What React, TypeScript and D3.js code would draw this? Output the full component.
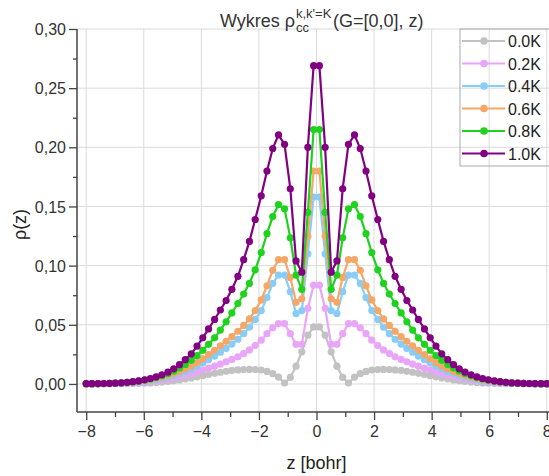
import * as d3 from "d3";
import { useEffect, useRef } from "react";

// z grid [bohr]
const zValues = [
  -8.0, -7.8, -7.59, -7.39, -7.19, -6.99, -6.78, -6.58, -6.38, -6.18,
  -5.97, -5.77, -5.57, -5.37, -5.16, -4.96, -4.76, -4.56, -4.35, -4.15,
  -3.95, -3.75, -3.54, -3.34, -3.14, -2.94, -2.73, -2.53, -2.33, -2.13,
  -1.92, -1.72, -1.52, -1.32, -1.11, -0.91, -0.71, -0.51, -0.3, -0.1,
  0.1, 0.3, 0.51, 0.71, 0.91, 1.11, 1.32, 1.52, 1.72, 1.92,
  2.13, 2.33, 2.53, 2.73, 2.94, 3.14, 3.34, 3.54, 3.75, 3.95,
  4.15, 4.35, 4.56, 4.76, 4.96, 5.16, 5.37, 5.57, 5.77, 5.97,
  6.18, 6.38, 6.58, 6.78, 6.99, 7.19, 7.39, 7.59, 7.8, 8.0,
];

const rho00 = [
  0.0, 0.0, 0.0001, 0.0001, 0.0001, 0.0002, 0.0002, 0.0003, 0.0004, 0.0005,
  0.0007, 0.0009, 0.0012, 0.0016, 0.0021, 0.0027, 0.0034, 0.0042, 0.0051, 0.006,
  0.007, 0.008, 0.009, 0.0099, 0.0107, 0.0114, 0.0119, 0.0122, 0.0123, 0.0122,
  0.0118, 0.0106, 0.0087, 0.0058, 0.0008, 0.0055, 0.015, 0.0272, 0.0412, 0.0482,
  0.0482, 0.0412, 0.0272, 0.015, 0.0055, 0.0008, 0.0058, 0.0087, 0.0106, 0.0118,
  0.0122, 0.0123, 0.0122, 0.0119, 0.0114, 0.0107, 0.0099, 0.009, 0.008, 0.007,
  0.006, 0.0051, 0.0042, 0.0034, 0.0027, 0.0021, 0.0016, 0.0012, 0.0009, 0.0007,
  0.0005, 0.0004, 0.0003, 0.0002, 0.0002, 0.0001, 0.0001, 0.0001, 0.0, 0.0,
];

const rho02 = [
  0.0001, 0.0001, 0.0002, 0.0002, 0.0003, 0.0004, 0.0005, 0.0007, 0.0009, 0.0012,
  0.0016, 0.0021, 0.0027, 0.0034, 0.0042, 0.0052, 0.0063, 0.0075, 0.0089, 0.0103,
  0.0118, 0.0133, 0.015, 0.0168, 0.0187, 0.0207, 0.023, 0.0257, 0.0288, 0.0325,
  0.037, 0.0425, 0.0475, 0.051, 0.051, 0.0425, 0.0335, 0.0335, 0.064, 0.0835,
  0.0835, 0.064, 0.0335, 0.0335, 0.0425, 0.051, 0.051, 0.0475, 0.0425, 0.037,
  0.0325, 0.0288, 0.0257, 0.023, 0.0207, 0.0187, 0.0168, 0.015, 0.0133, 0.0118,
  0.0103, 0.0089, 0.0075, 0.0063, 0.0052, 0.0042, 0.0034, 0.0027, 0.0021, 0.0016,
  0.0012, 0.0009, 0.0007, 0.0005, 0.0004, 0.0003, 0.0002, 0.0002, 0.0001, 0.0001,
];

const rho04 = [
  0.0002, 0.0002, 0.0002, 0.0003, 0.0004, 0.0005, 0.0007, 0.0009, 0.0012, 0.0016,
  0.0021, 0.0028, 0.0036, 0.0046, 0.0058, 0.0072, 0.0088, 0.0106, 0.0127, 0.015,
  0.0177, 0.0205, 0.0236, 0.0268, 0.03, 0.0337, 0.0378, 0.0425, 0.048, 0.0545,
  0.062, 0.073, 0.085, 0.092, 0.092, 0.078, 0.0595, 0.062, 0.11, 0.158,
  0.158, 0.11, 0.062, 0.0595, 0.078, 0.092, 0.092, 0.085, 0.073, 0.062,
  0.0545, 0.048, 0.0425, 0.0378, 0.0337, 0.03, 0.0268, 0.0236, 0.0205, 0.0177,
  0.015, 0.0127, 0.0106, 0.0088, 0.0072, 0.0058, 0.0046, 0.0036, 0.0028, 0.0021,
  0.0016, 0.0012, 0.0009, 0.0007, 0.0005, 0.0004, 0.0003, 0.0002, 0.0002, 0.0002,
];

const rho06 = [
  0.0002, 0.0002, 0.0003, 0.0004, 0.0005, 0.0007, 0.0009, 0.0012, 0.0016, 0.0021,
  0.0028, 0.0036, 0.0046, 0.0058, 0.0072, 0.0088, 0.0106, 0.0127, 0.0151, 0.018,
  0.0213, 0.0248, 0.0285, 0.0322, 0.036, 0.04, 0.0445, 0.0495, 0.055, 0.062,
  0.071, 0.083, 0.096, 0.105, 0.105, 0.09, 0.069, 0.072, 0.125, 0.18,
  0.18, 0.125, 0.072, 0.069, 0.09, 0.105, 0.105, 0.096, 0.083, 0.071,
  0.062, 0.055, 0.0495, 0.0445, 0.04, 0.036, 0.0322, 0.0285, 0.0248, 0.0213,
  0.018, 0.0151, 0.0127, 0.0106, 0.0088, 0.0072, 0.0058, 0.0046, 0.0036, 0.0028,
  0.0021, 0.0016, 0.0012, 0.0009, 0.0007, 0.0005, 0.0004, 0.0003, 0.0002, 0.0002,
];

const rho08 = [
  0.0002, 0.0002, 0.0003, 0.0004, 0.0005, 0.0007, 0.001, 0.0013, 0.0018, 0.0024,
  0.0032, 0.0042, 0.0055, 0.007, 0.0088, 0.011, 0.0135, 0.0165, 0.02, 0.024,
  0.0285, 0.0335, 0.039, 0.0455, 0.0525, 0.06, 0.068, 0.076, 0.085, 0.0965,
  0.111, 0.127, 0.1415, 0.1515, 0.148, 0.1235, 0.092, 0.08, 0.145, 0.215,
  0.215, 0.145, 0.08, 0.092, 0.1235, 0.148, 0.1515, 0.1415, 0.127, 0.111,
  0.0965, 0.085, 0.076, 0.068, 0.06, 0.0525, 0.0455, 0.039, 0.0335, 0.0285,
  0.024, 0.02, 0.0165, 0.0135, 0.011, 0.0088, 0.007, 0.0055, 0.0042, 0.0032,
  0.0024, 0.0018, 0.0013, 0.001, 0.0007, 0.0005, 0.0004, 0.0003, 0.0002, 0.0002,
];

const rho10 = [
  0.0002, 0.0002, 0.0003, 0.0004, 0.0005, 0.0007, 0.001, 0.0014, 0.0019, 0.0026,
  0.0035, 0.0046, 0.006, 0.0078, 0.01, 0.0128, 0.0163, 0.0205, 0.0255, 0.032,
  0.039, 0.0465, 0.0545, 0.0625, 0.0705, 0.08, 0.091, 0.105, 0.1205, 0.139,
  0.159, 0.18, 0.199, 0.2105, 0.2025, 0.165, 0.104, 0.0945, 0.2, 0.269,
  0.269, 0.2, 0.0945, 0.104, 0.165, 0.2025, 0.2105, 0.199, 0.18, 0.159,
  0.139, 0.1205, 0.105, 0.091, 0.08, 0.0705, 0.0625, 0.0545, 0.0465, 0.039,
  0.032, 0.0255, 0.0205, 0.0163, 0.0128, 0.01, 0.0078, 0.006, 0.0046, 0.0035,
  0.0026, 0.0019, 0.0014, 0.001, 0.0007, 0.0005, 0.0004, 0.0003, 0.0002, 0.0002,
];

const seriesNames = ["0.0K", "0.2K", "0.4K", "0.6K", "0.8K", "1.0K"];
const seriesValues = [rho00, rho02, rho04, rho06, rho08, rho10];
const seriesColors = ["#c2c2c2", "#e9a5f7", "#88cdf8", "#f5a767", "#1ed21e", "#820082"];

const xTicks = [-8, -6, -4, -2, 0, 2, 4, 6, 8];
const yTicks = [0, 0.05, 0.1, 0.15, 0.2, 0.25, 0.3];

export default function App() {
  const ref = useRef<SVGSVGElement | null>(null);

  useEffect(() => {
    const width = 549;
    const margin = { top: 29, left: 77, bottom: 412 };
    const font = "'Liberation Sans', Arial, sans-serif";

    const svg = d3.select(ref.current);
    svg.selectAll("*").remove();

    const x = d3.scaleLinear().domain([-8.32, 8.32]).range([margin.left, 556]);
    const y = d3.scaleLinear().domain([-0.0237, 0.3]).range([margin.bottom, margin.top]);

    // grid
    const grid = svg.append("g").attr("stroke", "#dadada").attr("stroke-width", 1);
    grid
      .selectAll("line.gx")
      .data(xTicks)
      .join("line")
      .attr("class", "gx")
      .attr("x1", (d) => x(d))
      .attr("x2", (d) => x(d))
      .attr("y1", margin.top)
      .attr("y2", margin.bottom);
    grid
      .selectAll("line.gy")
      .data(yTicks)
      .join("line")
      .attr("class", "gy")
      .attr("x1", margin.left)
      .attr("x2", width)
      .attr("y1", (d) => y(d))
      .attr("y2", (d) => y(d));

    // axes
    const fmtY = (d: number) => d3.format(".2f")(d).replace(".", ",");
    const yAxis = svg
      .append("g")
      .attr("transform", `translate(${margin.left},0)`)
      .call(d3.axisLeft(y).tickValues(yTicks).tickFormat(fmtY as any).tickSize(8).tickSizeOuter(0));
    svg
      .append("g")
      .attr("transform", `translate(${margin.left},0)`)
      .call(
        d3.axisLeft(y).tickValues([0.025, 0.075, 0.125, 0.175, 0.225, 0.275]).tickFormat(() => "").tickSize(4).tickSizeOuter(0)
      )
      .call((g) => g.select(".domain").remove());
    const xAxis = svg
      .append("g")
      .attr("transform", `translate(0,${margin.bottom})`)
      .call(d3.axisBottom(x).tickValues(xTicks).tickFormat(d3.format("d") as any).tickSize(8).tickSizeOuter(0));
    svg
      .append("g")
      .attr("transform", `translate(0,${margin.bottom})`)
      .call(
        d3.axisBottom(x).tickValues([-7, -5, -3, -1, 1, 3, 5, 7]).tickFormat(() => "").tickSize(5).tickSizeOuter(0)
      )
      .call((g) => g.select(".domain").remove());

    svg.selectAll(".domain").attr("stroke", "#444").attr("stroke-width", 1.5);
    svg.selectAll(".tick line").attr("stroke", "#444").attr("stroke-width", 1.3);
    yAxis.selectAll("text").attr("font-size", 16).attr("font-family", font).attr("fill", "#333").attr("x", -11).attr("dy", "0.35em");
    xAxis.selectAll("text").attr("font-size", 16).attr("font-family", font).attr("fill", "#333").attr("y", 14);
    yAxis.select(".domain").attr("d", `M0,${margin.bottom}V${margin.top}`);
    xAxis.select(".domain").attr("d", `M${margin.left},0H${width}`);

    // series
    const line = d3
      .line<number>()
      .x((_, i) => x(zValues[i]))
      .y((d) => y(d));
    seriesValues.forEach((vals, s) => {
      const g = svg.append("g");
      g.append("path")
        .attr("d", line(vals))
        .attr("fill", "none")
        .attr("stroke", seriesColors[s])
        .attr("stroke-width", 2.2);
      g.selectAll("circle")
        .data(vals)
        .join("circle")
        .attr("cx", (_, i) => x(zValues[i]))
        .attr("cy", (d) => y(d))
        .attr("r", 3.6)
        .attr("fill", seriesColors[s]);
    });

    // legend
    const lg = svg.append("g");
    lg.append("rect")
      .attr("x", 460)
      .attr("y", 29)
      .attr("width", 110)
      .attr("height", 137)
      .attr("fill", "none")
      .attr("stroke", "#aaa")
      .attr("stroke-width", 1);
    seriesNames.forEach((name, i) => {
      const cy = 41 + i * 22.5;
      lg.append("line")
        .attr("x1", 462)
        .attr("x2", 505)
        .attr("y1", cy)
        .attr("y2", cy)
        .attr("stroke", seriesColors[i])
        .attr("stroke-width", 2.2);
      lg.append("circle").attr("cx", 484).attr("cy", cy).attr("r", 3.8).attr("fill", seriesColors[i]);
      lg.append("text")
        .attr("x", 508)
        .attr("y", cy + 6)
        .attr("font-size", 16)
        .attr("font-family", font)
        .attr("fill", "#222")
        .text(name);
    });

    // title
    const t = svg.append("g").attr("font-family", font).attr("fill", "#333");
    t.append("text").attr("x", 295).attr("y", 27).attr("text-anchor", "end").attr("font-size", 18).text("Wykres ρ");
    t.append("text").attr("x", 296).attr("y", 32).attr("font-size", 13).text("cc");
    t.append("text").attr("x", 296).attr("y", 18).attr("font-size", 13).text("k,k'=K");
    t.append("text").attr("x", 333).attr("y", 27).attr("font-size", 18).text("(G=[0,0], z)");

    // axis labels
    svg
      .append("text")
      .attr("x", x(0))
      .attr("y", 469)
      .attr("text-anchor", "middle")
      .attr("font-size", 18)
      .attr("font-family", font)
      .attr("fill", "#222")
      .text("z [bohr]");
    svg
      .append("text")
      .attr("transform", `translate(26,${(margin.top + margin.bottom) / 2 + 4}) rotate(-90)`)
      .attr("text-anchor", "middle")
      .attr("font-size", 18)
      .attr("font-family", font)
      .attr("fill", "#222")
      .text("ρ(z)");
  }, []);

  return (
    <div style={{ position: "absolute", left: 0, top: 0 }}>
      <svg ref={ref} width={549} height={476} style={{ display: "block", background: "#fff" }} />
    </div>
  );
}
